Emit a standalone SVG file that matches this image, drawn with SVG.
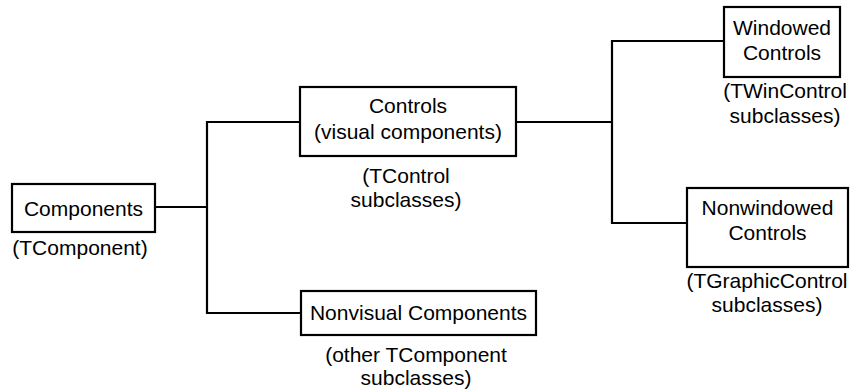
<svg xmlns="http://www.w3.org/2000/svg" width="853" height="390" viewBox="0 0 853 390">
<style>
.box{fill:#fff;stroke:#000;stroke-width:2.2}
.ln{fill:none;stroke:#000;stroke-width:2.2}
text{font-family:"Liberation Sans",Arial,sans-serif;font-size:21px;fill:#000;text-anchor:middle}
</style>
<rect width="853" height="390" fill="#fff"/>
<g id="connectors">
<path class="ln" d="M155,207 H207"/>
<path class="ln" d="M300,122 H207 V313 H301"/>
<path class="ln" d="M516,122 H612"/>
<path class="ln" d="M724,41 H612 V223 H687"/>
</g>
<g id="components">
<rect class="box" x="12" y="184" width="143" height="48"/>
<text x="83.5" y="216">Components</text>
<text x="80" y="255">(TComponent)</text>
</g>
<g id="controls">
<rect class="box" x="300" y="87" width="216" height="69"/>
<text x="408" y="113">Controls</text>
<text x="408" y="139">(visual components)</text>
<text x="406" y="183">(TControl</text>
<text x="406" y="207">subclasses)</text>
</g>
<g id="nonvisual">
<rect class="box" x="301" y="291" width="235" height="44"/>
<text x="418.5" y="320">Nonvisual Components</text>
<text x="416" y="362">(other TComponent</text>
<text x="416" y="385">subclasses)</text>
</g>
<g id="windowed">
<rect class="box" x="724" y="7" width="116" height="70"/>
<text x="782" y="35">Windowed</text>
<text x="782" y="60">Controls</text>
<text x="785" y="98">(TWinControl</text>
<text x="785" y="123">subclasses)</text>
</g>
<g id="nonwindowed">
<rect class="box" x="687" y="188" width="161" height="79"/>
<text x="767.5" y="215">Nonwindowed</text>
<text x="767.5" y="240">Controls</text>
<text x="767" y="288">(TGraphicControl</text>
<text x="767" y="312">subclasses)</text>
</g>
</svg>
